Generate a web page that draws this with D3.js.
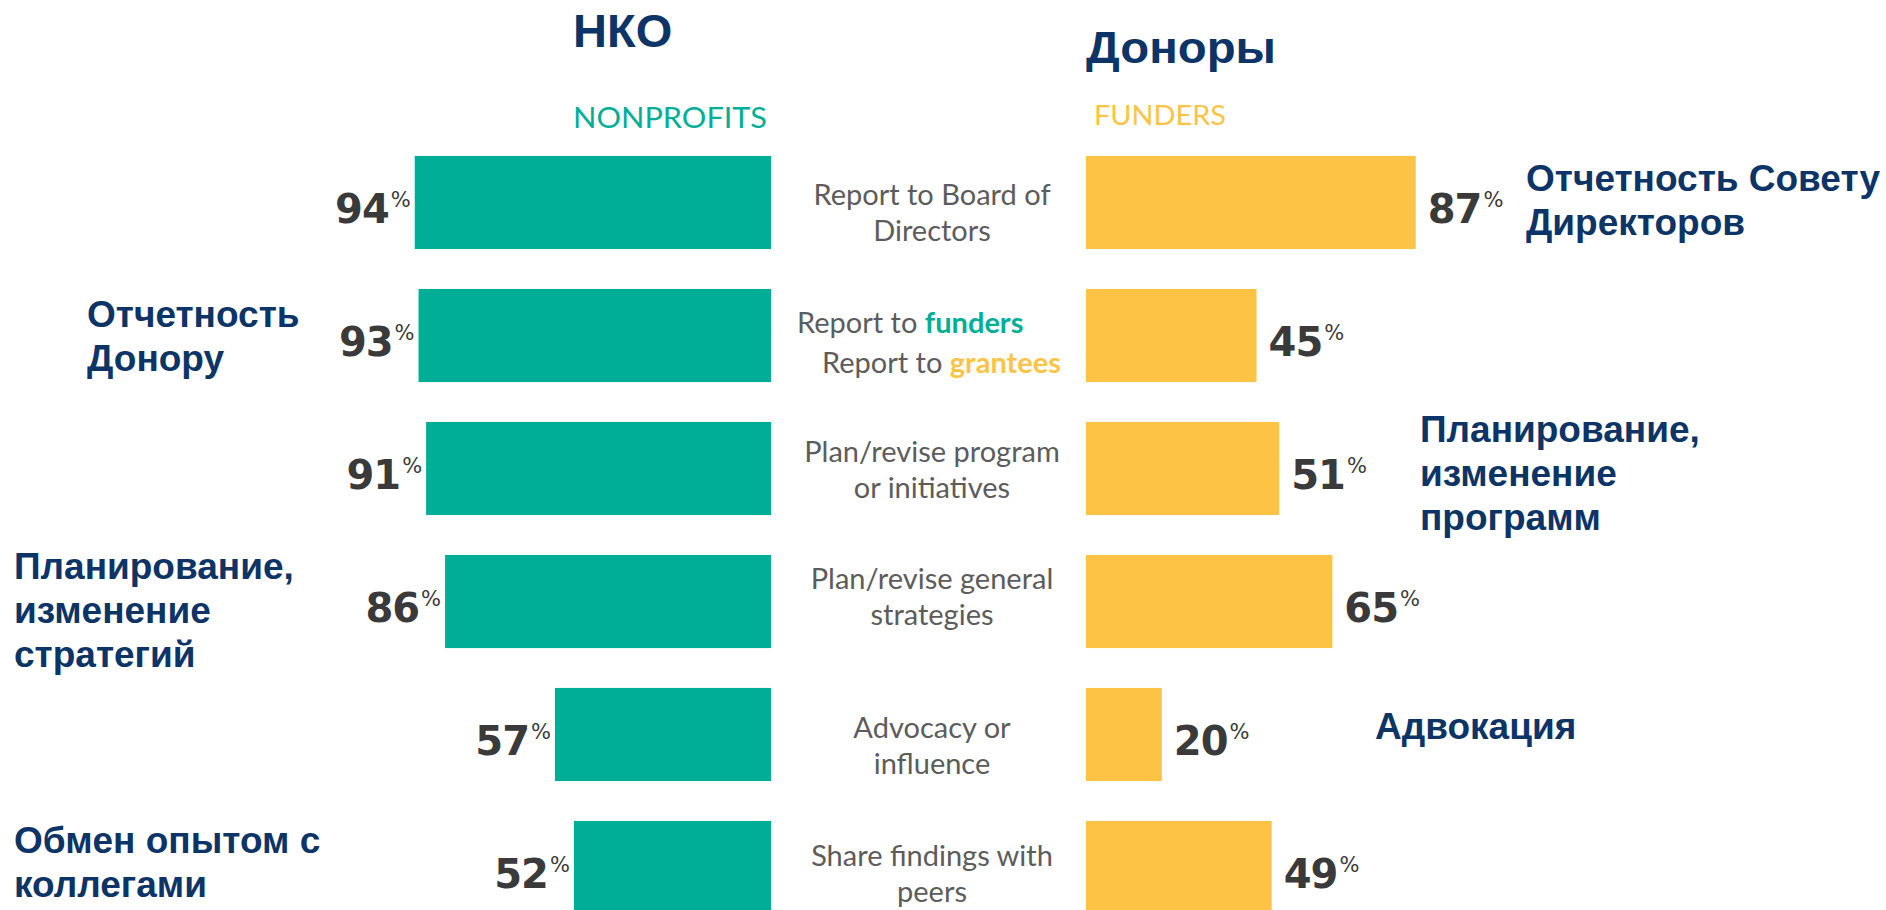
<!DOCTYPE html>
<html>
<head>
<meta charset="utf-8">
<script src="https://cdn.jsdelivr.net/npm/d3@7"></script>
<style>
  body { margin: 0; background: #fff; }
</style>
</head>
<body>
<div class="chart-container"></div>
<script>
const width = 1886;
const height = 910;

// data
const categories = ["board", "funders", "program", "strategies", "advocacy", "peers"];
const nonprofitValues = [94, 93, 91, 86, 57, 52];
const funderValues = [87, 45, 51, 65, 20, 49];
const centerLabels = [
    ["Report to Board of", "Directors"],
    ["Report to ", "Report to "],
    ["Plan/revise program", "or initiatives"],
    ["Plan/revise general", "strategies"],
    ["Advocacy or", "influence"],
    ["Share findings with", "peers"]
];
const leftNotes = [
    { row: 1, lines: ["Отчетность", "Донору"] },
    { row: 3, lines: ["Планирование,", "изменение", "стратегий"] },
    { row: 5, lines: ["Обмен опытом с", "коллегами"] }
];
const rightNotes = [
    { row: 0, lines: ["Отчетность Совету", "Директоров"] },
    { row: 2, lines: ["Планирование,", "изменение", "программ"] },
    { row: 4, lines: ["Адвокация"] }
];

const teal = "#00ae98";
const yellow = "#fdc344";
const navy = "#0d3466";
const numColor = "#3a3a3a";
const grey = "#5c5c5c";

const leftEdge = 771;   // where the nonprofit bars end
const rightEdge = 1086; // where the funder bars start
const midX = 932;

const svg = d3.select(".chart-container").append("svg")
    .attr("width", width)
    .attr("height", height);

svg.append("rect").attr("width", width).attr("height", height).attr("fill", "#fff");

const y = d3.scaleBand()
    .domain(categories)
    .range([136, 934])
    .paddingInner(0.3)
    .paddingOuter(0.15);

const x = d3.scaleLinear()
    .domain([0, 100])
    .range([0, 379]);

// headers
svg.append("text")
    .attr("x", 573).attr("y", 47)
    .attr("font-family", "Liberation Sans, Arial, sans-serif")
    .attr("font-weight", "bold")
    .attr("font-size", 47)
    .attr("fill", navy)
    .text("НКО");

svg.append("text")
    .attr("x", 1086).attr("y", 63)
    .attr("font-family", "Liberation Sans, Arial, sans-serif")
    .attr("font-weight", "bold")
    .attr("font-size", 45)
    .attr("fill", navy)
    .attr("textLength", 190)
    .attr("lengthAdjust", "spacingAndGlyphs")
    .text("Доноры");

svg.append("text")
    .attr("x", 573).attr("y", 128)
    .attr("font-family", "Lato, sans-serif")
    .attr("font-size", 29)
    .attr("fill", teal)
    .attr("textLength", 194)
    .attr("lengthAdjust", "spacingAndGlyphs")
    .text("NONPROFITS");

svg.append("text")
    .attr("x", 1094).attr("y", 125)
    .attr("font-family", "Lato, sans-serif")
    .attr("font-size", 26)
    .attr("fill", yellow)
    .attr("textLength", 132)
    .attr("lengthAdjust", "spacingAndGlyphs")
    .text("FUNDERS");

// nonprofit bars
svg.selectAll(".np-bar")
    .data(nonprofitValues)
    .enter().append("rect")
    .attr("class", "np-bar")
    .attr("x", d => leftEdge - x(d))
    .attr("y", (d, i) => y(categories[i]))
    .attr("width", d => x(d))
    .attr("height", y.bandwidth())
    .attr("fill", teal);

// funder bars
svg.selectAll(".f-bar")
    .data(funderValues)
    .enter().append("rect")
    .attr("class", "f-bar")
    .attr("x", rightEdge)
    .attr("y", (d, i) => y(categories[i]))
    .attr("width", d => x(d))
    .attr("height", y.bandwidth())
    .attr("fill", yellow);

function valueLabel(sel) {
    sel.attr("font-family", "DejaVu Sans, sans-serif")
        .attr("font-weight", "bold")
        .attr("font-size", 40)
        .attr("letter-spacing", -1)
        .attr("fill", numColor);
    sel.append("tspan").text(d => d);
    sel.append("tspan")
        .attr("font-size", 21)
        .attr("font-weight", "normal")
        .attr("letter-spacing", 0)
        .attr("dx", 2)
        .attr("dy", -16)
        .text("%");
}

svg.selectAll(".np-val")
    .data(nonprofitValues)
    .enter().append("text")
    .attr("class", "np-val")
    .attr("x", d => leftEdge - x(d) - 4)
    .attr("y", (d, i) => y(categories[i]) + y.bandwidth() / 2 + 20)
    .attr("text-anchor", "end")
    .call(valueLabel);

svg.selectAll(".f-val")
    .data(funderValues)
    .enter().append("text")
    .attr("class", "f-val")
    .attr("x", d => rightEdge + x(d) + 12)
    .attr("y", (d, i) => y(categories[i]) + y.bandwidth() / 2 + 20)
    .attr("text-anchor", "start")
    .call(valueLabel);

// centre category labels
const centerNudge = [4, 0, -5, -11, 5, 0];

centerLabels.forEach((lines, i) => {
    const cy = y(categories[i]) + y.bandwidth() / 2 + centerNudge[i];
    const t = svg.append("text")
        .attr("font-family", "Lato, sans-serif")
        .attr("font-size", 29)
        .attr("fill", grey);
    if (i === 1) {
        const l1 = t.append("tspan").attr("x", 797).attr("y", cy - 3);
        l1.append("tspan").text(lines[0]);
        l1.append("tspan").attr("font-weight", "bold").attr("fill", teal).text("funders");
        const l2 = t.append("tspan").attr("x", 822).attr("y", cy + 37);
        l2.append("tspan").text(lines[1]);
        l2.append("tspan").attr("font-weight", "bold").attr("fill", yellow).text("grantees");
    } else {
        t.attr("text-anchor", "middle");
        lines.forEach((line, j) => {
            t.append("tspan")
                .attr("x", midX)
                .attr("y", cy - 2 + j * 36)
                .text(line);
        });
    }
});

// russian notes
const noteLayout = {
    left: [{ x: 87, dy: 0 }, { x: 14, dy: -8 }, { x: 14, dy: 6 }],
    right: [{ x: 1526, dy: 3 }, { x: 1420, dy: -4 }, { x: 1375, dy: 9 }]
};

function drawNotes(notes, layout) {
    notes.forEach((n, i) => {
        const cy = y(categories[n.row]) + y.bandwidth() / 2;
        const first = cy - (n.lines.length - 1) * 22 + 13 - layout[i].dy;
        const t = svg.append("text")
            .attr("font-family", "Liberation Sans, Arial, sans-serif")
            .attr("font-weight", "bold")
            .attr("font-size", 37)
            .attr("fill", navy);
        n.lines.forEach((line, j) => {
            t.append("tspan")
                .attr("x", layout[i].x)
                .attr("y", first + j * 44)
                .text(line);
        });
    });
}

drawNotes(leftNotes, noteLayout.left);
drawNotes(rightNotes, noteLayout.right);
</script>
</body>
</html>
